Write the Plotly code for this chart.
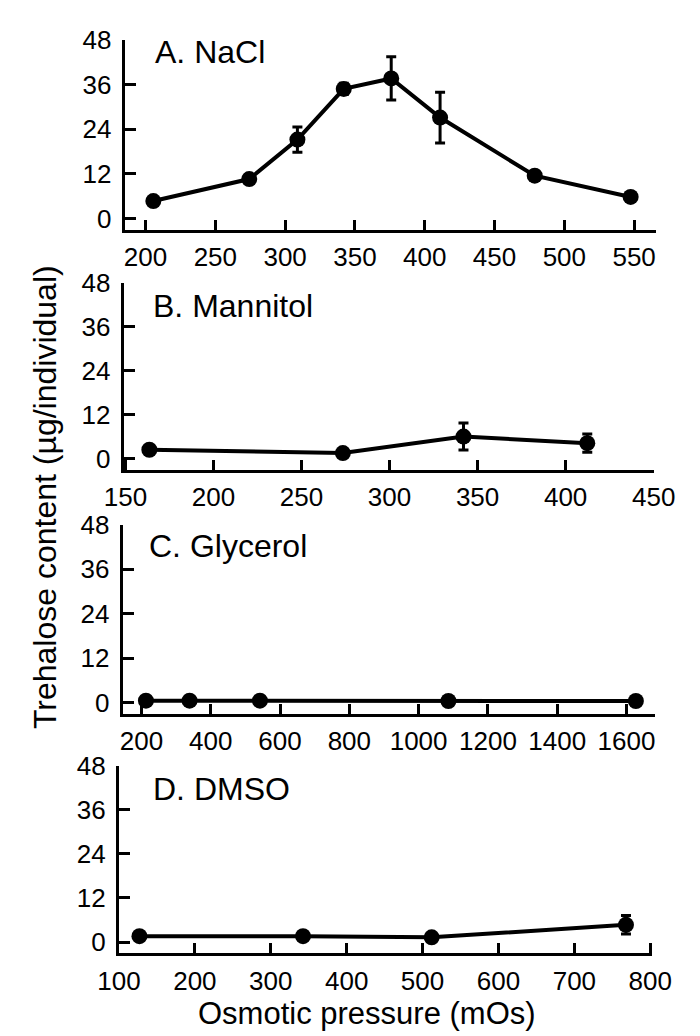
import plotly.graph_objects as go

# ---- data ----
nacl_x = [205.6, 274.3, 308.8, 342, 376, 411, 478.8, 547.5]
nacl_y = [4.7, 10.6, 21.2, 34.8, 37.6, 27.1, 11.5, 5.8]
nacl_err = [0.8, 1.2, 3.4, 1.5, 5.8, 6.8, 1.2, 0.8]

mannitol_x = [163.6, 273.5, 342, 412.3]
mannitol_y = [2.4, 1.5, 6.0, 4.2]
mannitol_err = [0.5, 0.5, 3.7, 2.5]

glycerol_x = [213, 339, 542, 1086, 1627]
glycerol_y = [0.5, 0.5, 0.5, 0.4, 0.4]
glycerol_err = [0.3, 0.3, 0.3, 0.3, 0.3]

dmso_x = [127, 342.5, 512, 768]
dmso_y = [1.6, 1.6, 1.3, 4.7]
dmso_err = [0.5, 0.5, 0.5, 2.5]

panel_labels = ["A. NaCl", "B. Mannitol", "C. Glycerol", "D. DMSO"]
y_ticks = [0, 12, 24, 36, 48]
x_ticks = [
    [200, 250, 300, 350, 400, 450, 500, 550],
    [150, 200, 250, 300, 350, 400, 450],
    [200, 400, 600, 800, 1000, 1200, 1400, 1600],
    [100, 200, 300, 400, 500, 600, 700, 800],
]
y_title = "Trehalose content (µg/individual)"
x_title = "Osmotic pressure (mOs)"

# ---- layout geometry (target page pixels; page body has an 8px margin) ----
OFF = 8
W, H = 700 - OFF, 1036 - OFF
FONT = "Liberation Sans, Arial, sans-serif"
x_ranges = [[185, 566], [149, 450], [146, 1681], [100, 802]]
x_dom_px = [(109, 677), (108, 674), (107, 675), (103, 672)]
y_dom_px = [(219, 25), (463.3, 272.7), (712, 519.3), (956, 764.5)]
label_pos = [(139, 38), (137, 296), (133, 541), (137, 788)]


def px_x(v):
    return (v - OFF) / W


def px_y(v):
    return 1 - (v - OFF) / H


series = [
    (nacl_x, nacl_y, nacl_err),
    (mannitol_x, mannitol_y, mannitol_err),
    (glycerol_x, glycerol_y, glycerol_err),
    (dmso_x, dmso_y, dmso_err),
]

fig = go.Figure()
layout = {}
annotations = []
for i, (xs, ys, es) in enumerate(series):
    n = "" if i == 0 else str(i + 1)
    fig.add_trace(go.Scatter(
        x=xs, y=ys, xaxis="x" + n, yaxis="y" + n,
        mode="lines+markers",
        line=dict(color="black", width=4),
        marker=dict(color="black", size=16, symbol="circle"),
        error_y=dict(type="data", array=es, visible=True,
                     color="black", thickness=3, width=5),
        showlegend=False, cliponaxis=False,
    ))
    xd = x_dom_px[i]
    yd = y_dom_px[i]
    layout["xaxis" + n] = dict(
        domain=[px_x(xd[0]), px_x(xd[1])], range=x_ranges[i],
        anchor="y" + n, tickmode="array", tickvals=x_ticks[i],
        ticks="inside", ticklen=10, tickwidth=3, tickcolor="black",
        showline=True, linecolor="black", linewidth=3,
        showgrid=False, zeroline=False,
        tickfont=dict(family=FONT, size=26, color="black"),
        ticklabelstandoff=2,
    )
    layout["yaxis" + n] = dict(
        domain=[px_y(yd[0]), px_y(yd[1])], range=[-3.1, 48],
        anchor="x" + n, tickmode="array", tickvals=y_ticks,
        ticks="inside", ticklen=11, tickwidth=3, tickcolor="black",
        showline=True, linecolor="black", linewidth=3,
        showgrid=False, zeroline=False,
        tickfont=dict(family=FONT, size=26, color="black"),
        ticklabelstandoff=5,
    )
    lx, ly = label_pos[i]
    annotations.append(dict(
        text=panel_labels[i], xref="paper", yref="paper",
        x=px_x(lx), y=px_y(ly), xanchor="left", yanchor="middle",
        showarrow=False, font=dict(family=FONT, size=32, color="black"),
    ))

annotations.append(dict(
    text=y_title, xref="paper", yref="paper", x=px_x(24), y=px_y(491),
    xanchor="center", yanchor="middle", textangle=-90, showarrow=False,
    font=dict(family=FONT, size=32, color="black"),
))
annotations.append(dict(
    text=x_title, xref="paper", yref="paper", x=px_x(368), y=px_y(1017),
    xanchor="center", yanchor="middle", showarrow=False,
    font=dict(family=FONT, size=31, color="black"),
))

fig.update_layout(
    width=W, height=H, margin=dict(l=0, r=0, t=0, b=0),
    paper_bgcolor="white", plot_bgcolor="white",
    annotations=annotations, **layout,
)
fig.write_html("out.html")
